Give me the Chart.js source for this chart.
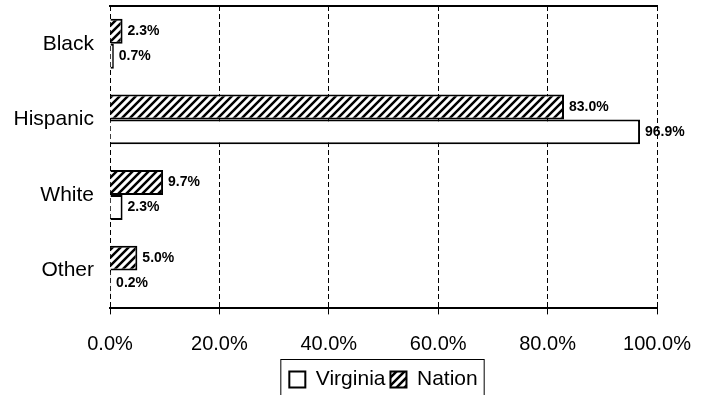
<!DOCTYPE html>
<html>
<head>
<meta charset="utf-8">
<script src="https://cdn.jsdelivr.net/npm/chart.js@4.4.1/dist/chart.umd.min.js"></script>
<style>
  html, body { margin: 0; padding: 0; background: #fff; }
  #wrap { width: 702px; height: 395px; }
</style>
</head>
<body>
<div id="wrap"><canvas id="chart" width="702" height="395"></canvas></div>
<script>
// Hispanic share by group, Virginia vs Nation
const categories = ['Black', 'Hispanic', 'White', 'Other'];
const virginiaValues = [0.7, 96.9, 2.3, 0.2];
const nationValues = [2.3, 83.0, 9.7, 5.0];
const xTicks = [0, 20, 40, 60, 80, 100];

const FONT = "'Liberation Sans', Arial, sans-serif";

// diagonal hatch pattern for the Nation bars
function makeHatch() {
  const c = document.createElement('canvas');
  c.width = 8;
  c.height = 8;
  const g = c.getContext('2d');
  g.fillStyle = '#fff';
  g.fillRect(0, 0, 8, 8);
  g.strokeStyle = '#000';
  g.lineWidth = 2.5;
  g.beginPath();
  g.moveTo(0, 8); g.lineTo(8, 0);
  g.moveTo(-2, 2); g.lineTo(2, -2);
  g.moveTo(6, 10); g.lineTo(10, 6);
  g.stroke();
  return g.createPattern(c, 'repeat');
}

const ctx = document.getElementById('chart').getContext('2d');
const hatch = makeHatch();

// value labels at the end of each bar
const barLabels = {
  id: 'barLabels',
  afterDatasetsDraw(chart) {
    const c = chart.ctx;
    c.save();
    c.font = 'bold 14px ' + FONT;
    c.fillStyle = '#000';
    c.textAlign = 'left';
    c.textBaseline = 'middle';
    chart.data.datasets.forEach((ds, i) => {
      chart.getDatasetMeta(i).data.forEach((bar, j) => {
        c.fillText(ds.data[j].toFixed(1) + '%', bar.x + 5, bar.y);
      });
    });
    c.restore();
  }
};

// frame around the legend
const legendFrame = {
  id: 'legendFrame',
  afterDraw(chart) {
    const boxes = chart.legend.legendHitBoxes;
    if (!boxes || !boxes.length) return;
    const left = Math.min(...boxes.map(b => b.left)) - 9;
    const right = Math.max(...boxes.map(b => b.left + b.width)) + 6;
    const top = Math.min(...boxes.map(b => b.top)) - 10;
    const c = chart.ctx;
    c.save();
    c.strokeStyle = '#000';
    c.lineWidth = 1;
    c.strokeRect(left + 0.5, top + 0.5, right - left, chart.height - top + 5);
    c.restore();
  }
};

new Chart(ctx, {
  type: 'bar',
  data: {
    labels: categories,
    datasets: [
      {
        label: 'Nation',
        data: nationValues,
        backgroundColor: hatch,
        borderColor: '#000',
        borderWidth: 2,
        borderSkipped: 'start',
        categoryPercentage: 0.66,
        barPercentage: 1.0
      },
      {
        label: 'Virginia',
        data: virginiaValues,
        backgroundColor: '#fff',
        borderColor: '#000',
        borderWidth: 2,
        borderSkipped: 'start',
        categoryPercentage: 0.66,
        barPercentage: 1.0
      }
    ]
  },
  options: {
    indexAxis: 'y',
    responsive: false,
    animation: false,
    layout: { padding: { left: 0, right: 45, top: 6, bottom: -5 } },
    scales: {
      x: {
        min: 0,
        max: 100,
        afterBuildTicks(scale) {
          scale.ticks = xTicks.map(v => ({ value: v }));
        },
        afterFit(scale) {
          scale.height = 55.6;
          scale.paddingLeft = 0;
          scale.paddingRight = 0;
        },
        ticks: {
          color: '#000',
          font: { family: FONT, size: 20 },
          padding: 18,
          callback: v => v.toFixed(1) + '%'
        },
        grid: { color: '#000', lineWidth: 1, tickLength: 6 },
        border: { display: true, color: '#000', width: 2, dash: [5, 3] }
      },
      xTop: {
        type: 'linear',
        position: 'top',
        min: 0,
        max: 100,
        afterFit(scale) {
          scale.height = 0;
          scale.paddingLeft = 0;
          scale.paddingRight = 0;
        },
        ticks: { display: false },
        grid: { display: false, drawTicks: false },
        border: { display: true, color: '#000', width: 2 }
      },
      y: {
        afterFit(scale) {
          scale.width = 110;
          scale.paddingTop = 0;
          scale.paddingBottom = 0;
        },
        ticks: {
          color: '#000',
          font: { family: FONT, size: 21 },
          padding: 16
        },
        grid: { display: false, drawTicks: false, tickLength: 0 },
        border: { display: false }
      }
    },
    plugins: {
      legend: {
        position: 'bottom',
        fullSize: false,
        labels: {
          color: '#000',
          font: { family: FONT, size: 21 },
          boxWidth: 16,
          boxHeight: 16,
          padding: 5,
          sort: (a, b) => b.datasetIndex - a.datasetIndex
        }
      },
      tooltip: { enabled: false }
    }
  },
  plugins: [barLabels, legendFrame]
});
</script>
</body>
</html>
